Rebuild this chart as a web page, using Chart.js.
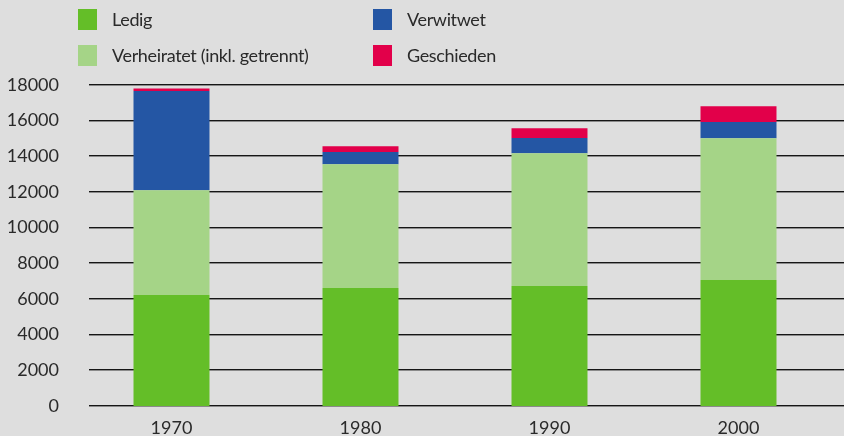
<!DOCTYPE html>
<html>
<head>
<meta charset="utf-8">
<script src="https://cdn.jsdelivr.net/npm/chart.js@4/dist/chart.umd.min.js"></script>
<style>
    html, body { margin: 0; padding: 0; background: #dedede; }
    #wrap { position: relative; width: 844px; height: 436px; }
    #legend {
        position: absolute; left: 78px; top: 9px;
        display: grid; grid-auto-flow: column;
        grid-template-rows: 36px 36px; grid-template-columns: 295px 300px;
        font-family: Lato, sans-serif; font-size: 18px; letter-spacing: -0.35px; color: #2a2a2a;
    }
    .item { display: flex; align-items: flex-start; }
    .box { width: 19px; height: 21px; margin-right: 15px; }
    .item span { line-height: 21px; }
</style>
</head>
<body>
<div id="wrap">
    <canvas id="chart" width="844" height="436"></canvas>
    <div id="legend"></div>
</div>
<script>
const years = ["1970", "1980", "1990", "2000"];
const ledig = [6230, 6620, 6730, 7070];
const verheiratet = [5870, 6940, 7445, 7945];
const verwitwet = [5560, 690, 855, 910];
const geschieden = [150, 320, 545, 880];

const seriesNames = ["Ledig", "Verheiratet (inkl. getrennt)", "Verwitwet", "Geschieden"];
const seriesColors = ["#64be28", "#a5d487", "#2456a4", "#e2004a"];
const yTicks = [0, 2000, 4000, 6000, 8000, 10000, 12000, 14000, 16000, 18000];

const fontFamily = 'Lato, sans-serif';

// Gitterlinien laufen bis zum rechten Rand, etwas anders als die Plotfläche
const gridPlugin = {
    id: "customGrid",
    beforeDatasetsDraw(chart) {
        const ctx = chart.ctx;
        const y = chart.scales.y;
        ctx.save();
        yTicks.forEach(v => {
            const py = Math.round(y.getPixelForValue(v));
            ctx.fillStyle = "#151515";
            ctx.fillRect(89, py - 1, 844 - 89, 1);
            ctx.fillStyle = "#8a8a8a";
            ctx.fillRect(89, py, 844 - 89, 1);
        });
        ctx.restore();
    }
};

const values = [ledig, verheiratet, verwitwet, geschieden];

const chart = new Chart(document.getElementById("chart"), {
    type: "bar",
    data: {
        labels: years,
        datasets: seriesNames.map((name, i) => ({
            label: name,
            data: values[i],
            backgroundColor: seriesColors[i],
            borderWidth: 0,
            barPercentage: 0.402,
            categoryPercentage: 1
        }))
    },
    options: {
        responsive: false,
        animation: false,
        layout: { padding: { top: 85, right: 11, left: 0, bottom: 0 } },
        plugins: { legend: { display: false }, tooltip: { enabled: false } },
        scales: {
            x: {
                stacked: true,
                grid: { display: false },
                border: { display: false },
                ticks: { color: "#2a2a2a", font: { family: fontFamily, size: 18 }, padding: 3 },
                afterFit(scale) { scale.height = 30; }
            },
            y: {
                stacked: true,
                min: 0,
                max: 18000,
                grid: { display: false },
                border: { display: false },
                ticks: {
                    stepSize: 2000,
                    color: "#2a2a2a",
                    font: { family: fontFamily, size: 18 },
                    padding: 10,
                    callback: v => String(v)
                },
                afterFit(scale) { scale.width = 77; }
            }
        }
    },
    plugins: [gridPlugin]
});

// HTML-Legende in zwei Spalten
const legendEl = document.getElementById("legend");
chart.data.datasets.forEach(ds => {
    const item = document.createElement("div");
    item.className = "item";
    item.innerHTML = `<div class="box" style="background:${ds.backgroundColor}"></div><span>${ds.label}</span>`;
    legendEl.appendChild(item);
});
</script>
</body>
</html>
